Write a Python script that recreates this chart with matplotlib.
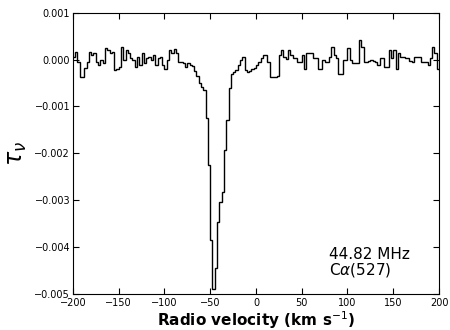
import matplotlib
matplotlib.use('Agg')
import matplotlib.pyplot as plt
import numpy as np
from matplotlib.ticker import MultipleLocator, FuncFormatter

# Canales de velocidad (km/s), bordes de -200 a 200
v_edges = np.linspace(-200, 200, 161)

# Profundidad optica en unidades de 1e-3
tau_e3 = [
    0.06, 0.17, -0.05, -0.37, -0.37, -0.18, -0.05, 0.17, 0.10, 0.13,
    -0.05, -0.12, -0.01, -0.08, 0.24, 0.20, 0.13, 0.17, -0.22, -0.19,
    -0.15, 0.27, -0.01, 0.20, 0.13, 0.03, -0.01, -0.15, 0.06, -0.12,
    0.13, -0.08, 0.03, 0.06, -0.01, 0.10, -0.12, 0.03, 0.06, -0.12,
    -0.19, -0.01, 0.20, 0.13, 0.22, 0.13, -0.05, -0.05, -0.08, -0.15,
    -0.08, -0.12, -0.14, -0.25, -0.35, -0.50, -0.58, -0.65, -1.25, -2.25,
    -3.85, -4.90, -4.45, -3.47, -3.04, -2.83, -1.93, -1.29, -0.61, -0.30,
    -0.27, -0.22, -0.12, -0.01, 0.05, -0.22, -0.27, -0.25, -0.20, -0.18,
    -0.12, -0.05, 0.03, 0.10, 0.10, -0.05, -0.37, -0.37, -0.37, -0.35,
    0.10, 0.20, 0.05, 0.02, 0.20, 0.10, 0.03, 0.03, -0.05, -0.05,
    0.10, -0.19, 0.13, 0.13, 0.13, 0.03, 0.03, -0.19, -0.19, 0.00,
    -0.05, -0.05, 0.05, 0.27, 0.10, 0.03, -0.30, -0.30, -0.01, -0.01,
    0.24, -0.01, -0.08, -0.08, -0.08, 0.42, 0.27, -0.05, -0.05, -0.02,
    -0.01, -0.03, -0.05, -0.12, 0.03, 0.03, -0.15, -0.15, 0.20, 0.03,
    0.20, -0.19, 0.13, 0.06, 0.06, 0.03, 0.03, -0.03, -0.05, 0.06,
    0.06, 0.06, -0.05, -0.05, -0.05, -0.12, 0.03, 0.27, 0.13, -0.19,
]
tau = np.array(tau_e3) * 1e-3

label_text = '44.82 MHz\nC$\\alpha$(527)'

fig = plt.figure(figsize=(4.5, 3.3), dpi=100)
ax = fig.add_axes([0.162, 0.109, 0.8136, 0.8525])

ax.stairs(tau, v_edges, baseline=None, color='black', linewidth=1.0)

ax.set_xlim(-200, 200)
ax.set_ylim(-0.005, 0.001)
ax.xaxis.set_major_locator(MultipleLocator(50))
ax.yaxis.set_major_locator(MultipleLocator(0.001))


def fmt_y(v, pos):
    if abs(v) < 1e-12:
        v = 0.0
    return f'{v:.3f}'.replace('-', '\u2212')


ax.yaxis.set_major_formatter(FuncFormatter(fmt_y))
ax.tick_params(direction='in', top=True, right=True, length=4, width=0.8,
               labelsize=7)
ax.tick_params(axis='x', pad=3)
ax.tick_params(axis='y', pad=2)

ax.set_xlabel(r'Radio velocity (km s$^{-1}$)', fontsize=11, fontweight='bold')
ax.xaxis.set_label_coords(0.5, -0.055)
ax.set_ylabel(r'$\tau_\nu$', fontsize=17)
ax.yaxis.set_label_coords(-0.12, 0.5)

ax.text(80, -0.00468, label_text, fontsize=11, va='bottom', ha='left',
        linespacing=0.95)

plt.savefig('out.png', dpi=100)
plt.close()
